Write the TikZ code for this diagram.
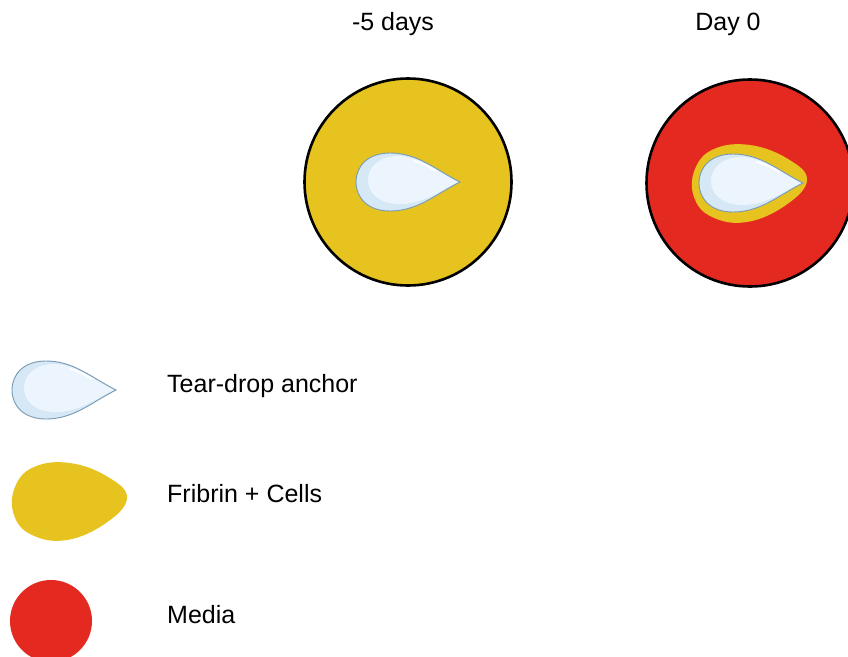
\documentclass[tikz,border=0pt]{standalone}
\usepackage{fontspec}
\setmainfont{Liberation Sans}
\usetikzlibrary{positioning}
\definecolor{fibrinyellow}{RGB}{230,195,30}
\definecolor{mediared}{RGB}{228,42,32}
\definecolor{dropfill}{RGB}{214,231,245}
\definecolor{droplight}{RGB}{236,245,253}
\definecolor{dropline}{RGB}{120,155,180}

\tikzset{
  anchordrop/.pic={
    \fill[dropfill] (104,0) .. controls (80,-12) and (62,-29) .. (34,-29)
      .. controls (12,-29) and (0,-16) .. (0,0)
      .. controls (0,16) and (12,29) .. (34,29)
      .. controls (62,29) and (80,12) .. (104,0) -- cycle;
    \fill[droplight] (102,0) .. controls (80,-11) and (64,-26) .. (42,-26)
      .. controls (22,-26) and (12,-14) .. (12,-2)
      .. controls (12,12) and (24,22) .. (44,22)
      .. controls (66,22) and (82,10) .. (102,0) -- cycle;
    \draw[dropline,line width=0.9pt] (104,0) .. controls (80,-12) and (62,-29) .. (34,-29)
      .. controls (12,-29) and (0,-16) .. (0,0)
      .. controls (0,16) and (12,29) .. (34,29)
      .. controls (62,29) and (80,12) .. (104,0) -- cycle;
    \draw[white,line width=1.6pt,line cap=round] (58,-21) .. controls (66,-19) and (74,-15) .. (80,-11);
  },
  fibrinblob/.pic={
    \fill[fibrinyellow] plot[smooth cycle,tension=0.7] coordinates
      {(115,-3) (96,-24) (58,-38) (22,-34) (3,-14) (2,14) (20,34) (55,39) (94,22)};
  }
}

\begin{document}
\begin{tikzpicture}[
    x=1pt,y=-1pt,
    dish/.style={circle,draw=black,line width=2.6pt,minimum size=207pt,inner sep=0pt},
    title/.style={anchor=base,font=\fontsize{25}{29}\selectfont},
    legend/.style={anchor=base west,inner sep=0pt,font=\fontsize{25}{29}\selectfont}
  ]
  \useasboundingbox (0,0) rectangle (848,656);

  % day -5
  \node[dish,fill=fibrinyellow] (dishA) at (408,182) {};
  \pic at (356,182) {anchordrop};
  \node[title] (dayA) at (393,30) {-5 days};

  % day 0
  \node[dish,fill=mediared] (dishB) at (750,183) {};
  \pic at (692,183) {fibrinblob};
  \pic at (699,183) {anchordrop};
  \node[title] (dayB) at (728,30) {Day 0};

  % legend
  \pic at (12,390) {anchordrop};
  \node[legend] (keyA) at (167,392) {Tear-drop anchor};
  \pic at (12,501) {fibrinblob};
  \node[legend] (keyB) at (167,502) {Fribrin + Cells};
  \fill[mediared] (51,621) circle (41);
  \node[legend] (keyC) at (167,623) {Media};
\end{tikzpicture}
\end{document}
